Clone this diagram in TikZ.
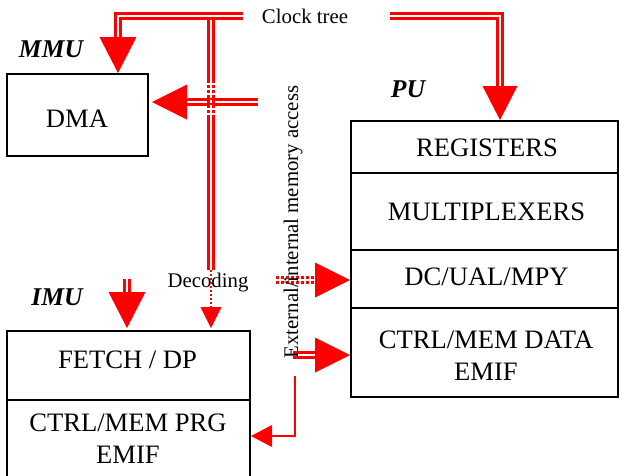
\documentclass[tikz,border=0pt]{standalone}
\usepackage{fontspec}
\setmainfont{Liberation Serif}
\begin{document}
\begin{tikzpicture}[x=1pt,y=-1pt,
  box/.style={draw=black,line width=1.5pt,inner sep=0pt},
  boxtext/.style={inner sep=0pt,font={\fontsize{26.6}{32}\selectfont}},
  unit/.style={inner sep=0pt,font={\fontsize{25.6}{32}\selectfont\bfseries\itshape}},
  small/.style={inner sep=0pt,font={\fontsize{20.8}{24}\selectfont}},
  dbl/.style={draw=red,double=white,line width=2.3pt,double distance=2.6pt},
  dbldot/.style={dbl,dash pattern=on 3pt off 2pt},
  sline/.style={draw=red,line width=2.5pt},
  sdot/.style={draw=red,line width=2pt,dash pattern=on 2pt off 2pt},
  head/.style={fill=red}]
\useasboundingbox (0,0) rectangle (619,475);
\clip (0,0) rectangle (619,475);

% boxes
\node[box,minimum width=141pt,minimum height=82pt] (dma) at (77.5,115) {};
\node[box,minimum width=267pt,minimum height=52pt] (reg) at (484.5,147) {};
\node[box,minimum width=267pt,minimum height=77pt] (mux) at (484.5,211.5) {};
\node[box,minimum width=267pt,minimum height=58pt] (dc) at (484.5,279) {};
\node[box,minimum width=267pt,minimum height=89pt] (ctrl) at (484.5,352.5) {};
\node[box,minimum width=243pt,minimum height=69pt] (fetch) at (128.5,365.5) {};
\node[box,minimum width=243pt,minimum height=90pt] (prg) at (128.5,445) {};

% box texts
\node[boxtext,anchor=base] (dmaT) at (77,127) {DMA};
\node[boxtext,anchor=base] (regT) at (487,156.5) {REGISTERS};
\node[boxtext,anchor=base] (muxT) at (486.5,220.5) {MULTIPLEXERS};
\node[boxtext,anchor=base] (dcT) at (486.5,285) {DC/UAL/MPY};
\node[boxtext,align=center] (ctrlT) at (486,356) {CTRL/MEM DATA\\EMIF};
\node[boxtext,anchor=base] (fetchT) at (127.5,368.5) {FETCH / DP};
\node[boxtext,align=center] (prgT) at (128,439) {CTRL/MEM PRG\\EMIF};

% unit labels
\node[unit,anchor=base] (mmu) at (51,57) {MMU};
\node[unit,anchor=base] (pu) at (408,97) {PU};
\node[unit,anchor=base] (imu) at (57,305) {IMU};

% small labels
\node[small,anchor=base] (clock) at (305,23) {Clock tree};
\node[small,anchor=base] (dec) at (208,287) {Decoding};

% coordinates
\coordinate (cL0) at (243,16);
\coordinate (cL1) at (118,16);
\coordinate (cL2) at (118,45);
\coordinate (tDMAtop) at (118,73);
\coordinate (cR0) at (390,16);
\coordinate (cR1) at (500,16);
\coordinate (cR2) at (500,95);
\coordinate (tREG) at (500,120);
\coordinate (b0) at (211,19.5);
\coordinate (b1) at (211,80);
\coordinate (b2) at (211,116);
\coordinate (b3) at (211,270);
\coordinate (b4) at (211,312);
\coordinate (tDEC) at (211,328);
\coordinate (d0) at (258,102);
\coordinate (d1) at (180,102);
\coordinate (tDMAside) at (152,102);
\coordinate (f0) at (127,279);
\coordinate (f1) at (127,300);
\coordinate (tFETCH) at (127,328);
\coordinate (e0) at (276,280);
\coordinate (e1) at (320,280);
\coordinate (tDC) at (350,280);
\coordinate (g0) at (293,355);
\coordinate (g1) at (320,355);
\coordinate (tCTRL) at (350,355);
\coordinate (p0) at (295,376);
\coordinate (p1) at (295,436);
\coordinate (p2) at (268,436);
\coordinate (tPRG) at (251,436);

% connectors
\draw[dbl] (cL0) -- (cL1) -- (cL2);
\fill[head] (tDMAtop) -- ++(-18.5,-36) -- ++(37,0) -- cycle;
\draw[dbl] (cR0) -- (cR1) -- (cR2);
\fill[head] (tREG) -- ++(-17.5,-34) -- ++(35,0) -- cycle;

\draw[dbl] (d0) -- (d1);
\fill[head] (tDMAside) -- ++(35,-17.5) -- ++(0,35) -- cycle;

\draw[dbl] (b0) -- (b1);
\draw[dbldot] (b1) -- (b2);
\draw[dbl] (b2) -- (b3);
\draw[sdot] (b3) -- (b4);
\fill[head] (tDEC) -- ++(-10.5,-21) -- ++(21,0) -- cycle;

\draw[dbl] (f0) -- (f1);
\fill[head] (tFETCH) -- ++(-18.5,-36) -- ++(37,0) -- cycle;

\draw[dbldot] (e0) -- (e1);
\fill[head] (tDC) -- ++(-35,-17.5) -- ++(0,35) -- cycle;

\draw[dbl] (g0) -- (g1);
\fill[head] (tCTRL) -- ++(-35,-17.5) -- ++(0,35) -- cycle;

\draw[sline] (p0) -- (p1) -- (p2);
\fill[head] (tPRG) -- ++(21,-11) -- ++(0,22) -- cycle;

% vertical label
\node[small,anchor=base,rotate=90] (ext) at (298,222) {External/internal memory access};
\end{tikzpicture}
\end{document}
